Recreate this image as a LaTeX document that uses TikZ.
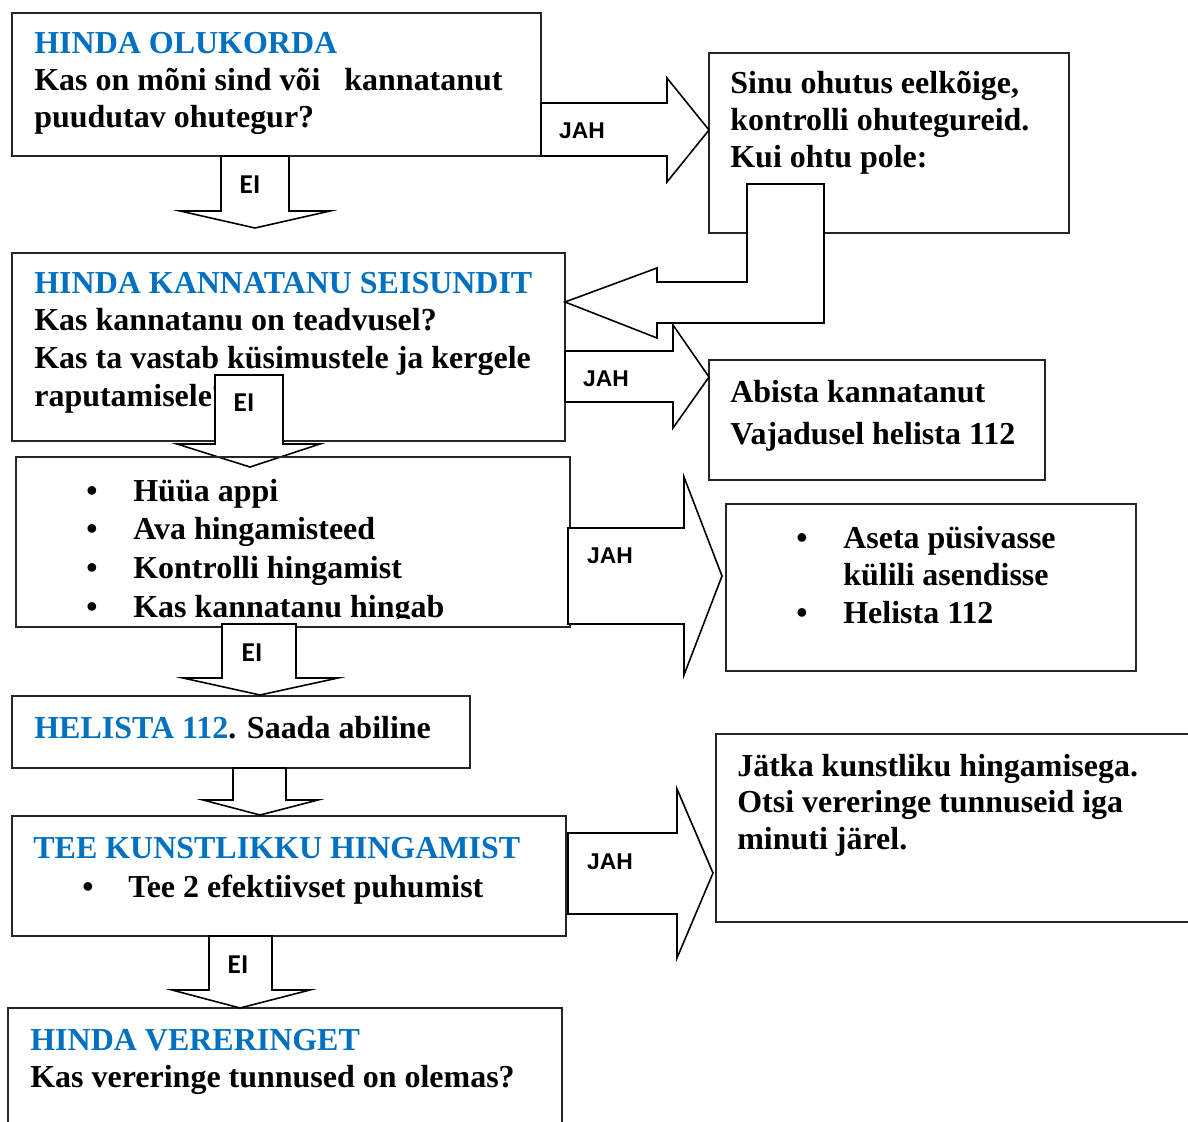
\documentclass[tikz,border=0pt]{standalone}
\usepackage{fontspec}
\setmainfont{Liberation Serif}
\newfontfamily\jahfont{Liberation Sans}
\newfontfamily\eifont{Carlito}
\definecolor{headblue}{HTML}{0070C0}
\tikzset{
  box/.style = {draw=black!85, line width=0.6pt},
  blockarrow/.style = {draw=black, fill=white, line width=0.9pt, line join=miter},
  txt/.style = {anchor=base west, inner sep=0pt, font=\bfseries\fontsize{18.2}{21}\selectfont},
  head/.style = {txt, text=headblue},
  bul/.style = {txt, anchor=base},
  jah/.style = {inner sep=0pt, font=\jahfont\bfseries\fontsize{13}{15}\selectfont},
  ei/.style = {inner sep=0pt, font=\eifont\bfseries\fontsize{15.5}{17}\selectfont}
}

\begin{document}
\begin{tikzpicture}[x=0.02cm, y=-0.02cm]
	\clip (0,0) rectangle (1188,1122);
	\fill[white] (0,0) rectangle (1188,1122);
	
	% Boxes
	\draw[box] (12,13)   rectangle (541,156);  % hinda olukorda
	\draw[box] (709,53)  rectangle (1069,233); % ohutus
	\draw[box] (12,253)  rectangle (565,441);  % seisund
	\draw[box] (709,360) rectangle (1045,480); % abista
	\draw[box] (16,457)  rectangle (570,627);  % hyya appi
	\draw[box] (726,504) rectangle (1136,671); % kylili
	\draw[box] (12,696)  rectangle (470,768);  % helista
	\draw[box] (12,816)  rectangle (566,936);  % hingamine
	\draw[box] (716,734) rectangle (1200,922); % jatka
	\draw[box] (8,1008)  rectangle (562,1140); % vereringe
	
	% Texts
	\node[head] (olu1) at (34,54)  {HINDA OLUKORDA};
	\node[txt]  (olu2) at (34,91)  {Kas on mõni sind või\ \ \ kannatanut};
	\node[txt]  (olu3) at (34,128) {puudutav ohutegur?};
	
	\node[txt] (ohu1) at (730,94)  {Sinu ohutus eelkõige,};
	\node[txt] (ohu2) at (730,131) {kontrolli ohutegureid.};
	\node[txt] (ohu3) at (730,168) {Kui ohtu pole:};
	
	\node[head] (sei1) at (34,294) {HINDA KANNATANU SEISUNDIT};
	\node[txt]  (sei2) at (34,331) {Kas kannatanu on teadvusel?};
	\node[txt]  (sei3) at (34,368) {Kas ta vastab küsimustele ja kergele};
	\node[txt]  (sei4) at (34,406) {raputamisele?};
	
	\node[txt] (abi1) at (730,402) {Abista kannatanut};
	\node[txt] (abi2) at (730,444) {Vajadusel helista 112};
	
	\begin{scope}
		\clip (16,457) rectangle (570,618);
		\node[bul] (hb1) at (92,501) {\textbullet};
		\node[bul] (hb2) at (92,539) {\textbullet};
		\node[bul] (hb3) at (92,578) {\textbullet};
		\node[bul] (hb4) at (92,617) {\textbullet};
		\node[txt] (hyy1) at (133,501) {Hüüa appi};
		\node[txt] (hyy2) at (133,539) {Ava hingamisteed};
		\node[txt] (hyy3) at (133,578) {Kontrolli hingamist};
		\node[txt] (hyy4) at (133,617) {Kas kannatanu hingab};
	\end{scope}
	
	\node[bul] (kb1) at (802,548) {\textbullet};
	\node[bul] (kb2) at (802,623) {\textbullet};
	\node[txt] (kyl1) at (843,548) {Aseta püsivasse};
	\node[txt] (kyl2) at (843,585) {külili asendisse};
	\node[txt] (kyl3) at (843,623) {Helista 112};
	
	\node[txt] (hel1) at (34,738) {{\color{headblue}HELISTA 112}. Saada abiline};
	
	\node[head] (hin1) at (33,858) {TEE KUNSTLIKKU HINGAMIST};
	\node[bul]  (tb1)  at (88,897) {\textbullet};
	\node[txt]  (hin2) at (128,897) {Tee 2 efektiivset puhumist};
	
	\node[txt] (jat1) at (737,776) {Jätka kunstliku hingamisega.};
	\node[txt] (jat2) at (737,812) {Otsi vereringe tunnuseid iga};
	\node[txt] (jat3) at (737,849) {minuti järel.};
	
	\node[head] (ver1) at (30,1050) {HINDA VERERINGET};
	\node[txt]  (ver2) at (30,1087) {Kas vereringe tunnused on olemas?};
	
	% Block arrows
	\draw[blockarrow] (541,103) -- (667,103) -- (667,78) -- (709,130)
		-- (667,182) -- (667,156) -- (541,156) -- cycle; % jah 1
	\draw[blockarrow] (221,156) -- (289,156) -- (289,211) -- (330,211)
		-- (255,228) -- (180,211) -- (221,211) -- cycle; % ei 1
	\draw[blockarrow] (747,184) -- (824,184) -- (824,323) -- (657,323)
		-- (657,338) -- (565,302) -- (657,268) -- (657,282) -- (747,282) -- cycle; % tagasi
	\draw[blockarrow] (565,351) -- (673,351) -- (673,325) -- (709,377)
		-- (673,428) -- (673,402) -- (565,402) -- cycle; % jah 2
	\draw[blockarrow] (215,375) -- (283,375) -- (283,444) -- (320,444)
		-- (250,467) -- (177,444) -- (215,444) -- cycle; % ei 2
	\draw[box] (16,457) -- (570,457); % top of box E over the arrow
	\draw[blockarrow] (568,528) -- (684,528) -- (684,477) -- (722,576)
		-- (684,675) -- (684,624) -- (568,624) -- cycle; % jah 3
	\draw[blockarrow] (222,624) -- (296,624) -- (296,678) -- (338,678)
		-- (260,695) -- (183,678) -- (222,678) -- cycle; % ei 3
	\draw[blockarrow] (233,768) -- (286,768) -- (286,800) -- (318,800)
		-- (260,815) -- (203,800) -- (233,800) -- cycle; % helista -> hingamine
	\draw[blockarrow] (568,833) -- (677,833) -- (677,789) -- (713,873)
		-- (677,958) -- (677,914) -- (568,914) -- cycle; % jah 4
	\draw[blockarrow] (209,936) -- (272,936) -- (272,990) -- (310,990)
		-- (240,1008) -- (172,990) -- (209,990) -- cycle; % ei 4
	
	% Arrow labels
	\node[jah] (jah1) at (582,131) {JAH};
	\node[jah] (jah2) at (606,379) {JAH};
	\node[jah] (jah3) at (610,556) {JAH};
	\node[jah] (jah4) at (610,862) {JAH};
	\node[ei] (ei1) at (250,185) {EI};
	\node[ei] (ei2) at (244,403) {EI};
	\node[ei] (ei3) at (252,653) {EI};
	\node[ei] (ei4) at (238,965) {EI};
	
\end{tikzpicture}
\end{document}
